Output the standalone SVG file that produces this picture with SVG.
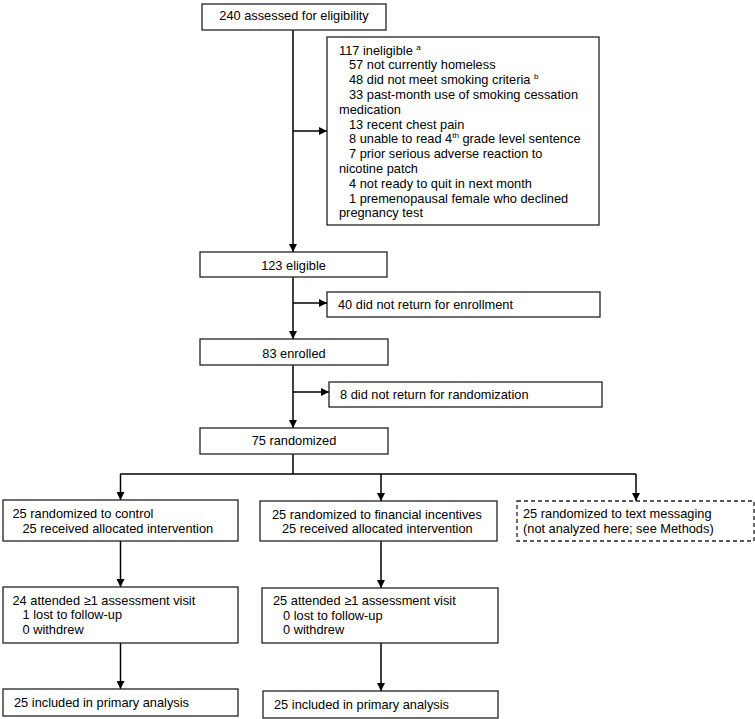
<svg xmlns="http://www.w3.org/2000/svg" width="755" height="719" viewBox="0 0 755 719">
<style>
text{font-family:"Liberation Sans",Arial,sans-serif;font-size:12.8px;fill:#000}
.box{fill:#fff;stroke:#222;stroke-width:1.3}
.dash{fill:#fff;stroke:#222;stroke-width:1.3;stroke-dasharray:4,3}
.ln{fill:none;stroke:#000;stroke-width:1.5}
.c{text-anchor:middle}
.sup{font-size:8px}
</style>
<defs>
<marker id="arr" viewBox="0 0 10 10" refX="10" refY="5" markerWidth="9" markerHeight="8" markerUnits="userSpaceOnUse" orient="auto">
<path d="M0,0 L10,5 L0,10 z" fill="#000"/>
</marker>
</defs>
<g id="connectors">
<line class="ln" x1="293" y1="30" x2="293" y2="252" marker-end="url(#arr)"/>
<line class="ln" x1="293" y1="131" x2="327" y2="131" marker-end="url(#arr)"/>
<line class="ln" x1="293" y1="277" x2="293" y2="339" marker-end="url(#arr)"/>
<line class="ln" x1="293" y1="303" x2="327" y2="303" marker-end="url(#arr)"/>
<line class="ln" x1="293" y1="365" x2="293" y2="428" marker-end="url(#arr)"/>
<line class="ln" x1="293" y1="392" x2="329" y2="392" marker-end="url(#arr)"/>
<polyline class="ln" points="293,454 293,474"/>
<line class="ln" x1="120" y1="474" x2="636" y2="474"/>
<line class="ln" x1="120.5" y1="474" x2="120.5" y2="500" marker-end="url(#arr)"/>
<line class="ln" x1="381" y1="474" x2="381" y2="501" marker-end="url(#arr)"/>
<line class="ln" x1="636" y1="474" x2="636" y2="501" marker-end="url(#arr)"/>
<line class="ln" x1="120.5" y1="541" x2="120.5" y2="587" marker-end="url(#arr)"/>
<line class="ln" x1="381" y1="541" x2="381" y2="588" marker-end="url(#arr)"/>
<line class="ln" x1="120.5" y1="643" x2="120.5" y2="689" marker-end="url(#arr)"/>
<line class="ln" x1="381" y1="643" x2="381" y2="691" marker-end="url(#arr)"/>
</g>
<g id="assessed">
<rect class="box" x="202" y="4" width="184" height="26"/>
<text class="c" x="294" y="19.5">240 assessed for eligibility</text>
</g>
<g id="ineligible">
<rect class="box" x="327" y="37" width="272" height="188"/>
<text x="339" y="54.5">117 ineligible <tspan class="sup" dy="-5">a</tspan></text>
<text x="349" y="69.3">57 not currently homeless</text>
<text x="349" y="84.1">48 did not meet smoking criteria <tspan class="sup" dy="-5">b</tspan></text>
<text x="349" y="98.9">33 past-month use of smoking cessation</text>
<text x="339" y="113.7">medication</text>
<text x="349" y="128.5">13 recent chest pain</text>
<text x="349" y="143.3">8 unable to read 4<tspan class="sup" dy="-5">th</tspan><tspan dy="5"> grade level sentence</tspan></text>
<text x="349" y="158.1">7 prior serious adverse reaction to</text>
<text x="339" y="172.9">nicotine patch</text>
<text x="349" y="187.7">4 not ready to quit in next month</text>
<text x="349" y="202.5">1 premenopausal female who declined</text>
<text x="339" y="217.3">pregnancy test</text>
</g>
<g id="eligible">
<rect class="box" x="200" y="252" width="187" height="25"/>
<text class="c" x="293.5" y="269.5">123 eligible</text>
</g>
<g id="no-enroll">
<rect class="box" x="327" y="292" width="273" height="25"/>
<text x="338" y="309">40 did not return for enrollment</text>
</g>
<g id="enrolled">
<rect class="box" x="200" y="339" width="188" height="26"/>
<text class="c" x="294" y="358">83 enrolled</text>
</g>
<g id="no-random">
<rect class="box" x="329" y="382" width="273" height="25"/>
<text x="340" y="398.5">8 did not return for randomization</text>
</g>
<g id="randomized">
<rect class="box" x="200" y="428" width="188" height="26"/>
<text class="c" x="294" y="445">75 randomized</text>
</g>
<g id="control">
<rect class="box" x="3" y="500" width="235" height="41"/>
<text x="12.5" y="518">25 randomized to control</text>
<text x="22.5" y="532.5">25 received allocated intervention</text>
</g>
<g id="financial">
<rect class="box" x="260" y="501" width="237" height="40"/>
<text x="272" y="518.5">25 randomized to financial incentives</text>
<text x="282" y="533">25 received allocated intervention</text>
</g>
<g id="texting">
<rect class="dash" x="517" y="501" width="237" height="40"/>
<text x="523" y="518">25 randomized to text messaging</text>
<text x="523" y="532.5">(not analyzed here; see Methods)</text>
</g>
<g id="control-followup">
<rect class="box" x="3" y="587" width="235" height="56"/>
<text x="12.5" y="604.5">24 attended ≥1 assessment visit</text>
<text x="22.5" y="619">1 lost to follow-up</text>
<text x="22.5" y="633.5">0 withdrew</text>
</g>
<g id="financial-followup">
<rect class="box" x="262" y="588" width="236" height="55"/>
<text x="273" y="605">25 attended ≥1 assessment visit</text>
<text x="283" y="619.5">0 lost to follow-up</text>
<text x="283" y="634">0 withdrew</text>
</g>
<g id="control-analysis">
<rect class="box" x="3" y="689" width="235" height="27"/>
<text x="14" y="707">25 included in primary analysis</text>
</g>
<g id="financial-analysis">
<rect class="box" x="263" y="691" width="235" height="27"/>
<text x="274" y="709">25 included in primary analysis</text>
</g>
</svg>
